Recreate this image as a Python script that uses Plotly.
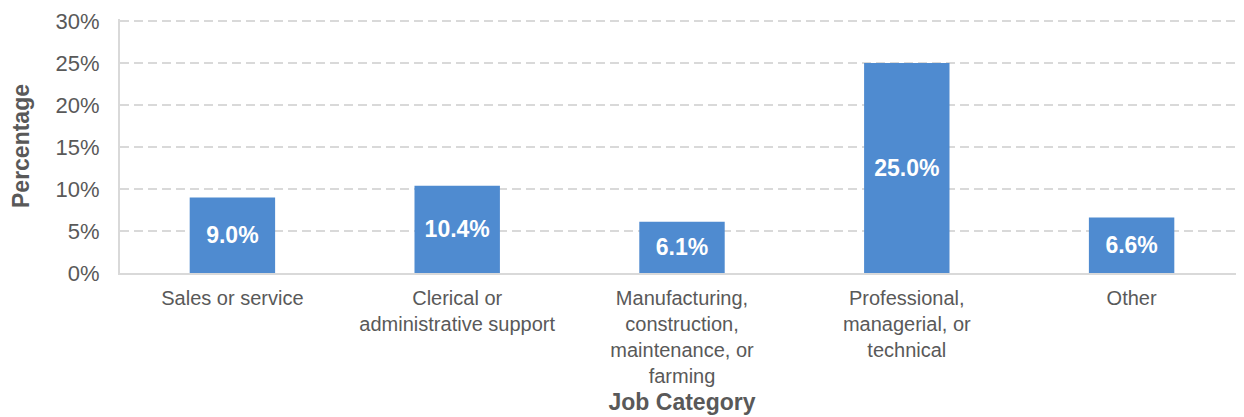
import plotly.graph_objects as go

categories = [
    "Sales or service",
    "Clerical or<br>administrative support",
    "Manufacturing,<br>construction,<br>maintenance, or<br>farming",
    "Professional,<br>managerial, or<br>technical",
    "Other",
]
values = [9.0, 10.4, 6.1, 25.0, 6.6]
labels = [f"{v:.1f}%" for v in values]
y_ticks = [0, 5, 10, 15, 20, 25, 30]
y_tick_text = [f"{t}%" for t in y_ticks]

FONT = "Liberation Sans, Arial, sans-serif"
GREY = "#595959"
LINE = "#D9D9D9"


def main():
    fig = go.Figure(go.Bar(
        x=categories,
        y=values,
        text=labels,
        textposition="inside",
        insidetextanchor="middle",
        textangle=0,
        textfont=dict(family=FONT, size=23, color="white", weight="bold"),
        marker=dict(color="#4F8BD0", line=dict(width=0)),
        cliponaxis=False,
    ))

    # page body adds an 8px offset, so the figure is sized to fit inside it
    fig.update_layout(
        width=1236,
        height=409,
        margin=dict(l=112, r=0, t=11, b=144),
        paper_bgcolor="white",
        plot_bgcolor="white",
        bargap=0.62,
        showlegend=False,
        font=dict(family=FONT, color=GREY),
    )
    fig.update_xaxes(
        automargin=False,
        showline=True,
        linecolor=LINE,
        linewidth=2,
        showgrid=False,
        tickfont=dict(size=20, color=GREY),
        ticks="",
        ticklabelstandoff=6,
        title=dict(text="<b>Job Category</b>", font=dict(size=23, color=GREY), standoff=8),
    )
    fig.update_yaxes(
        automargin=False,
        range=[0, 30.25],
        tickvals=y_ticks,
        ticktext=y_tick_text,
        showline=True,
        linecolor=LINE,
        linewidth=2,
        showgrid=True,
        gridcolor=LINE,
        griddash="9px,5px",
        gridwidth=1.5,
        zeroline=False,
        tickfont=dict(size=22, color=GREY),
        ticks="",
        ticklabelstandoff=14,
        title=dict(text="<b>Percentage</b>", font=dict(size=23, color=GREY), standoff=20),
    )
    fig.write_html("out.html")


if __name__ == "__main__":
    main()
